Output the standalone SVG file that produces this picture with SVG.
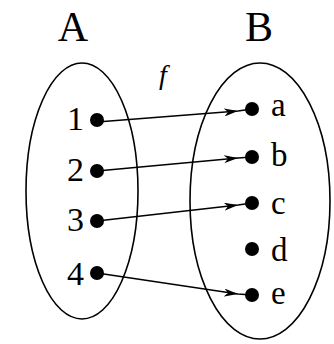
<svg xmlns="http://www.w3.org/2000/svg" width="334" height="344" viewBox="0 0 334 344">
<style>
.set{fill:none;stroke:#000;stroke-width:1.6}
.dot{fill:#000}
.num{font-family:"Liberation Serif","Times New Roman",serif;font-size:34px;fill:#000}
.let{font-family:"Liberation Serif","Times New Roman",serif;font-size:33px;fill:#000}
.big{font-family:"Liberation Serif","Times New Roman",serif;font-size:42px;fill:#000}
.arr{fill:none;stroke:#000;stroke-width:1.6}
</style>
<defs>
<marker id="ah" viewBox="0 0 14 8" refX="14" refY="4" markerWidth="14" markerHeight="8" markerUnits="userSpaceOnUse" orient="auto">
<path d="M0,0 L14,4 L0,8 L4,4 Z" fill="#000"/>
</marker>
</defs>
<rect width="334" height="344" fill="#fff"/>
<g id="setA">
<ellipse class="set" cx="82" cy="191" rx="56" ry="128"/>
<text class="big" x="73" y="41" text-anchor="middle">A</text>
</g>
<g id="setB">
<ellipse class="set" cx="260" cy="201" rx="70" ry="138"/>
<text class="big" x="259" y="41" text-anchor="middle">B</text>
</g>
<g id="label-f">
<text x="163" y="84" text-anchor="middle" style="font-family:'Liberation Serif',serif;font-style:italic;font-size:28px">f</text>
</g>
<g id="n1"><circle class="dot" cx="97" cy="120" r="7"/><text class="num" x="84" y="130" text-anchor="end">1</text></g>
<g id="n2"><circle class="dot" cx="97" cy="171" r="7"/><text class="num" x="84" y="181" text-anchor="end">2</text></g>
<g id="n3"><circle class="dot" cx="97" cy="221" r="7"/><text class="num" x="84" y="231" text-anchor="end">3</text></g>
<g id="n4"><circle class="dot" cx="97" cy="273" r="7"/><text class="num" x="84" y="285" text-anchor="end">4</text></g>
<g id="na"><circle class="dot" cx="252" cy="109" r="7"/><text class="let" x="271" y="116">a</text></g>
<g id="nb"><circle class="dot" cx="252" cy="157" r="7"/><text class="let" x="271" y="166">b</text></g>
<g id="nc"><circle class="dot" cx="252" cy="203" r="7"/><text class="let" x="271" y="214">c</text></g>
<g id="nd"><circle class="dot" cx="252" cy="249" r="7"/><text class="let" x="271" y="261">d</text></g>
<g id="ne"><circle class="dot" cx="252" cy="295" r="7"/><text class="let" x="271" y="304">e</text></g>
<g id="connectors">
<path class="arr" d="M97,122 L238,111 L252,109" marker-mid="url(#ah)"/>
<path class="arr" d="M97,171 L238,158 L252,157" marker-mid="url(#ah)"/>
<path class="arr" d="M97,221 L238,205 L252,203" marker-mid="url(#ah)"/>
<path class="arr" d="M97,273 L238,294 L252,295" marker-mid="url(#ah)"/>
</g>
</svg>
